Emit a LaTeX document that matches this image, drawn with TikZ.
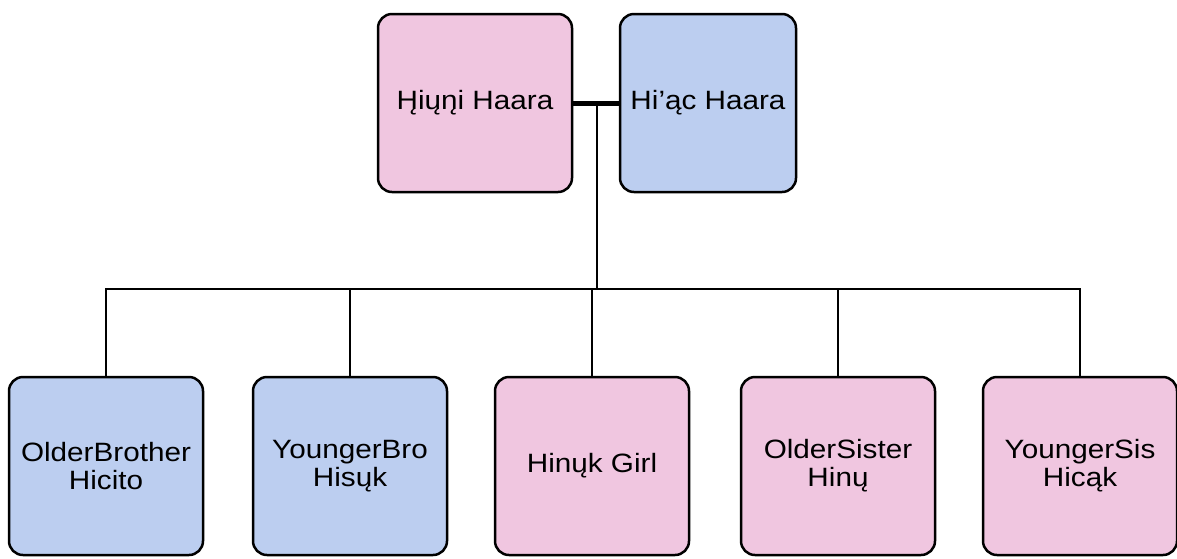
\documentclass[tikz,border=0pt]{standalone}
\usepackage{fontspec}
\setmainfont{Liberation Sans}[FakeStretch=1.12]
\begin{document}
\begin{tikzpicture}[x=1pt,y=-1pt,
  person/.style={draw=black,line width=2.5pt,rounded corners=14pt,minimum width=194pt,minimum height=178pt,inner sep=0pt,align=center,font=\fontsize{26.5}{28}\selectfont},
  pinkbox/.style={person,fill=pinkc},
  bluebox/.style={person,fill=bluec},
  link/.style={draw=black,line width=2pt}]
\definecolor{pinkc}{HTML}{F0C6E0}
\definecolor{bluec}{HTML}{BCCEF0}
\useasboundingbox (0,0) rectangle (1177,558);
\node[pinkbox] (mom) at (475,103) {H̨iųn̨i Haara};
\node[bluebox,minimum width=176pt] (dad) at (708,103) {Hi’ąc Haara};
\node[bluebox] (c1) at (106,466) {OlderBrother\\Hicito};
\node[bluebox] (c2) at (350,466) {YoungerBro\\Hisųk};
\node[pinkbox] (c3) at (592,466) {Hinųk Girl};
\node[pinkbox] (c4) at (838,466) {OlderSister\\Hinų};
\node[pinkbox] (c5) at (1080,466) {YoungerSis\\Hicąk};
\draw[draw=black,line width=5pt] (mom.east) -- (dad.west);
\coordinate (bar) at (597,289);
\draw[link] (597,105) -- (bar);
\draw[link] (c1.north) -- (c1.north |- bar) -- (c5.north |- bar) -- (c5.north);
\draw[link] (c2.north) -- (c2.north |- bar);
\draw[link] (c3.north) -- (c3.north |- bar);
\draw[link] (c4.north) -- (c4.north |- bar);
\end{tikzpicture}
\end{document}
